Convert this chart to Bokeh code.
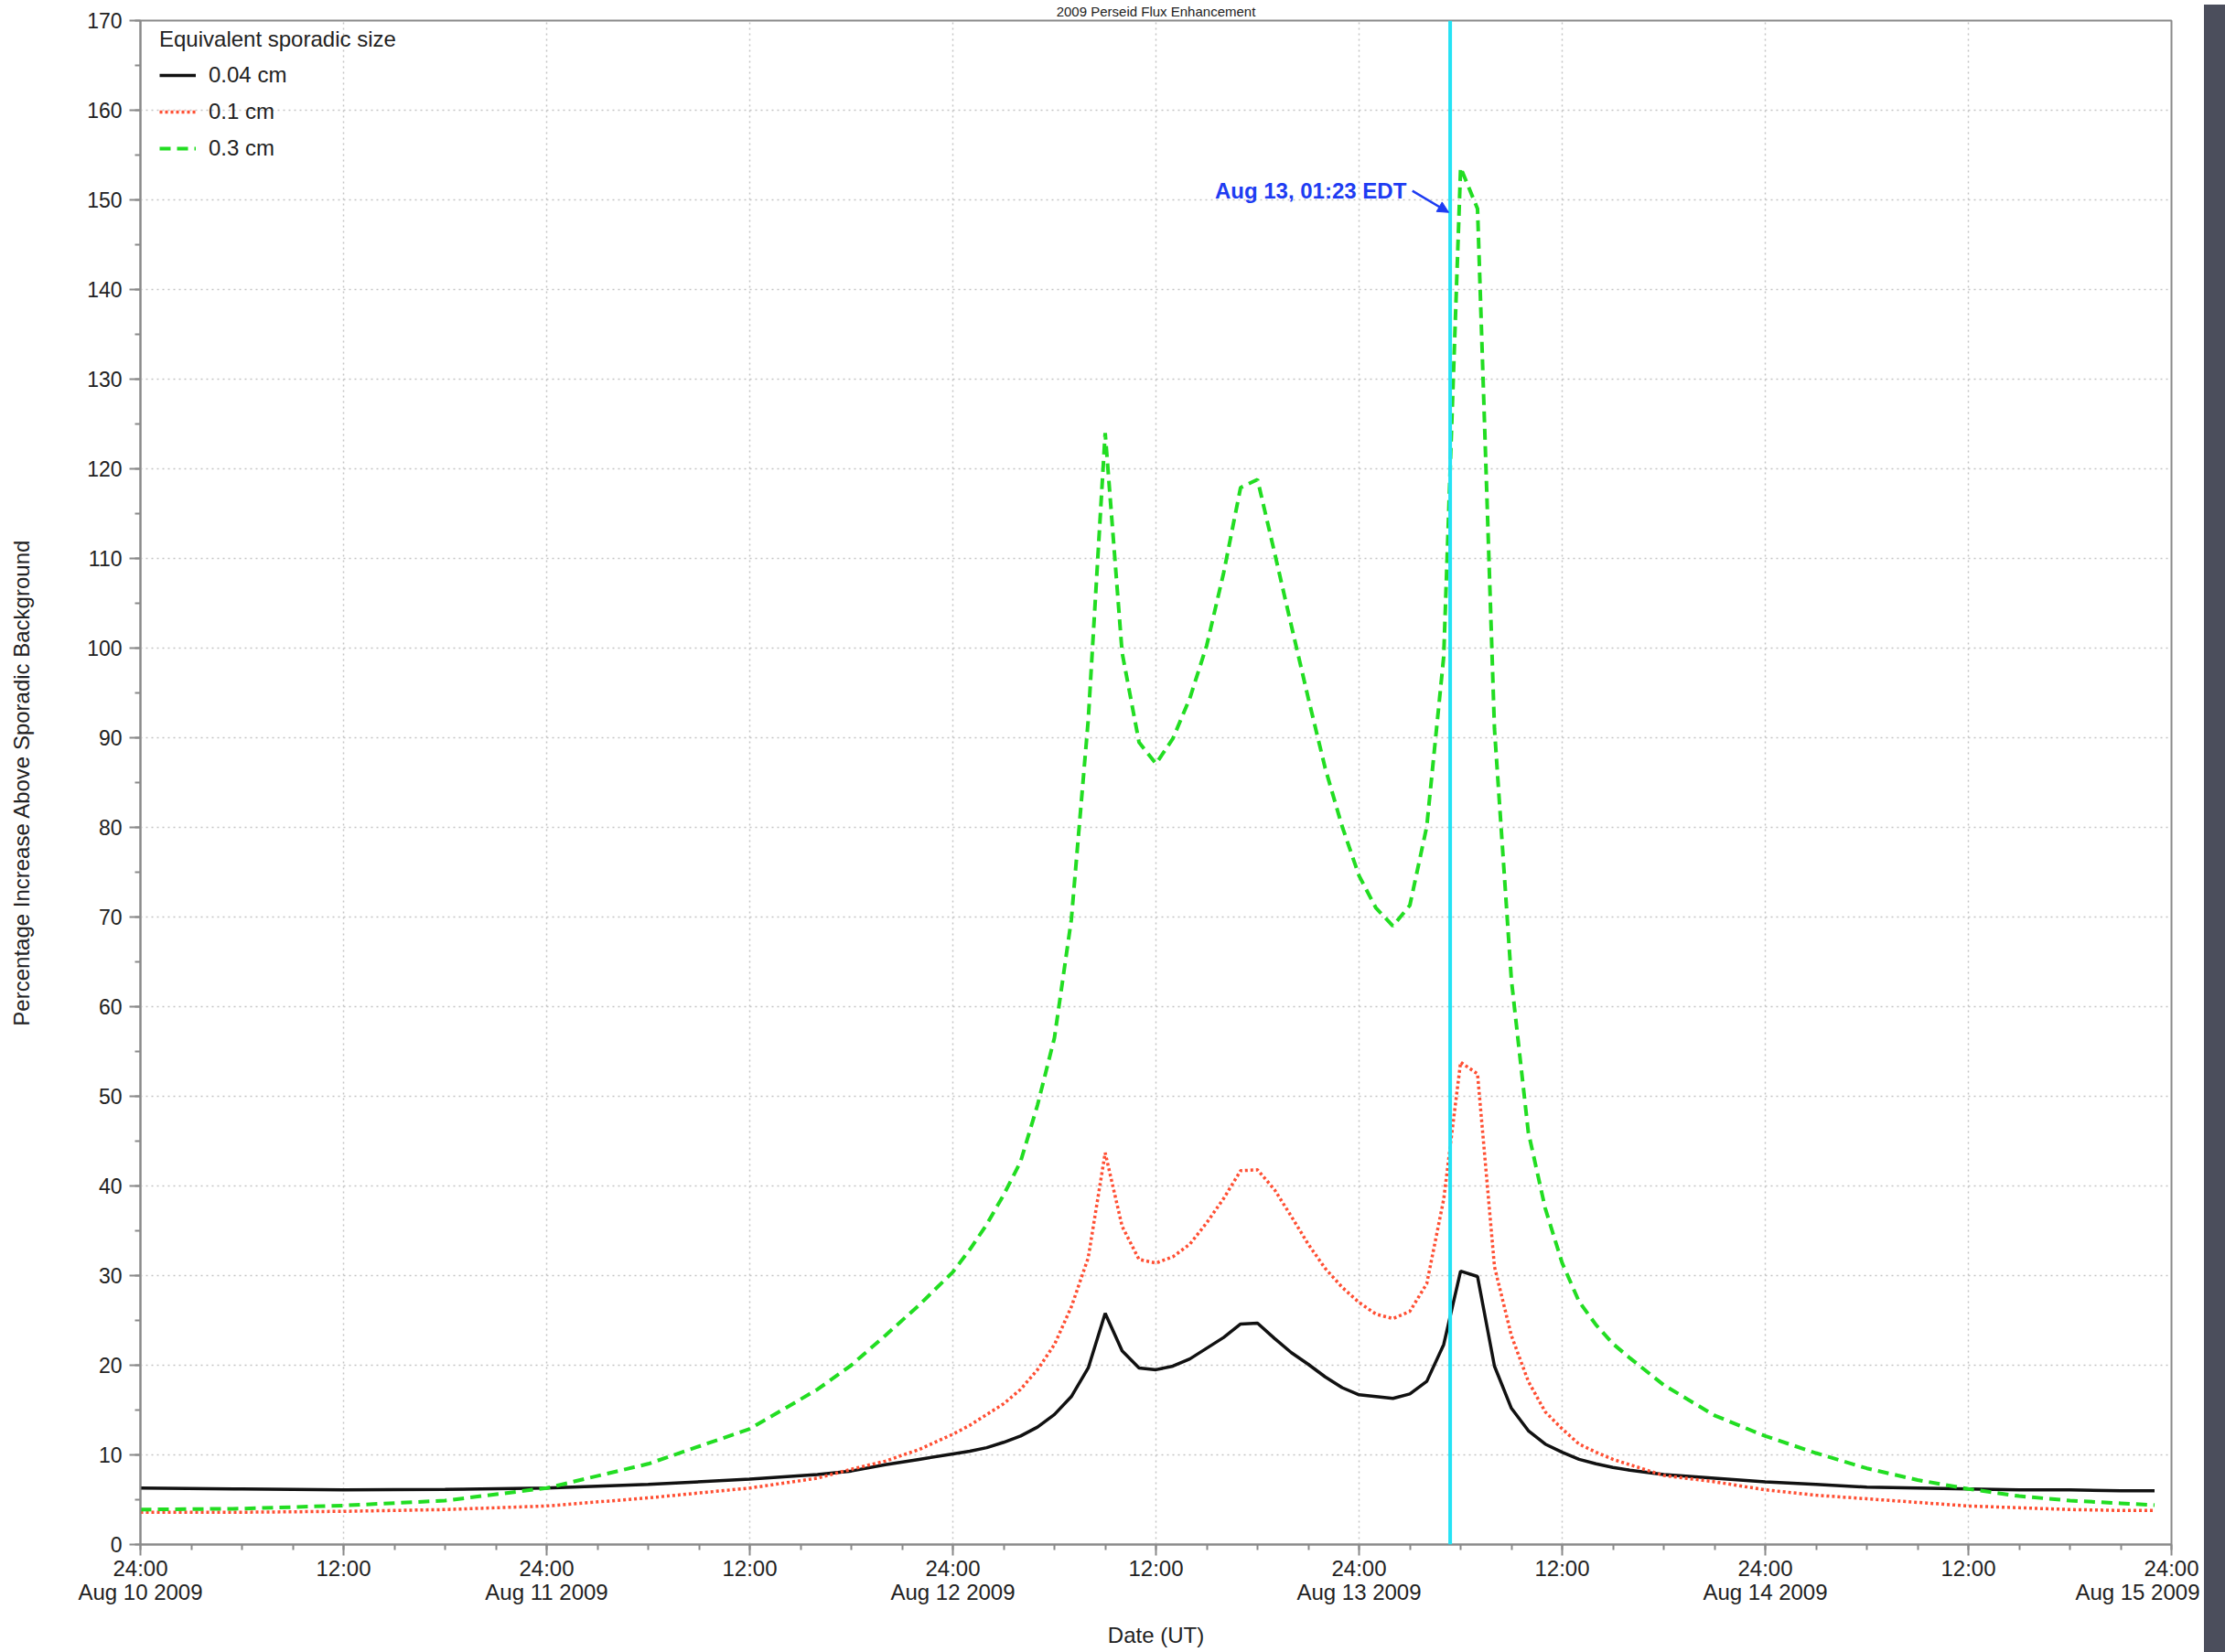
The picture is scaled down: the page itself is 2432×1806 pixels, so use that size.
from bokeh.plotting import figure
from bokeh.models import (FixedTicker, Label, Arrow, NormalHead, Span, Range1d, Div, LinearAxis)
from bokeh.layouts import row
from bokeh.embed import file_html
from bokeh.resources import INLINE

# ---- data (hours after the 24:00 Aug 10 2009 axis origin) ----
hours = [0, 6, 12, 18, 24, 30, 36, 40, 42, 44, 46, 48, 49, 50, 51, 52, 53, 54, 55, 56,
         57, 58, 59, 60, 61, 62, 63, 64, 65, 66, 67, 68, 69, 70, 71, 72, 73, 74, 75, 76,
         77, 78, 79, 80, 81, 82, 83, 84, 85, 86, 87, 88, 90, 93, 96, 99, 102, 105, 108,
         111, 114, 117, 119]

size_004 = [6.3, 6.2, 6.1, 6.15, 6.3, 6.7, 7.3, 7.8, 8.2, 8.9, 9.5, 10.1, 10.4, 10.8, 11.4,
            12.1, 13.1, 14.5, 16.5, 19.7,
            25.8, 21.6, 19.7, 19.5, 19.9, 20.7, 21.9, 23.1, 24.6, 24.7, 23.0, 21.4, 20.1, 18.7,
            17.5, 16.7, 16.5, 16.3, 16.8, 18.2,
            22.3, 30.5, 29.9, 19.9, 15.2, 12.7, 11.2, 10.3, 9.5, 9.0, 8.6, 8.3, 7.8, 7.4, 7.0,
            6.7, 6.4, 6.3, 6.2, 6.1, 6.1, 6.0, 6.0]

size_01 = [3.6, 3.6, 3.7, 3.9, 4.3, 5.2, 6.3, 7.4, 8.4, 9.3, 10.6, 12.3, 13.3, 14.5, 15.7,
           17.3, 19.5, 22.3, 26.5, 32.0,
           43.7, 35.5, 31.8, 31.4, 32.1, 33.5, 35.9, 38.6, 41.7, 41.8, 39.6, 36.6, 33.5, 30.8,
           28.7, 27.0, 25.7, 25.2, 26.0, 29.1,
           38.5, 53.8, 52.5, 31.0, 23.3, 18.2, 14.8, 12.9, 11.2, 10.3, 9.5, 8.9, 7.7, 7.0, 6.1,
           5.5, 5.1, 4.7, 4.3, 4.1, 3.9, 3.8, 3.8]

size_03 = [3.9, 4.0, 4.35, 4.9, 6.3, 9.0, 12.9, 17.3, 20.0, 23.3, 26.7, 30.4, 32.9, 35.7, 39.0,
           42.7, 49.0, 56.5, 69.7, 92.0,
           124.0, 99.5, 89.5, 87.1, 89.9, 94.4, 100.3, 108.4, 117.9, 118.8, 110.7, 102.5, 94.4,
           86.6, 80.1, 74.6, 71.0, 69.0, 71.3, 80.1,
           99.0, 153.6, 149.0, 91.0, 63.0, 46.0, 37.5, 31.4, 27.1, 24.5, 22.4, 20.8, 17.8, 14.4,
           12.1, 10.2, 8.5, 7.2, 6.2, 5.4, 4.9, 4.6, 4.4]

series_labels = ["0.04 cm", "0.1 cm", "0.3 cm"]

tick_hours = [0, 12, 24, 36, 48, 60, 72, 84, 96, 108, 120]
time_text = ["24:00", "12:00", "24:00", "12:00", "24:00", "12:00",
             "24:00", "12:00", "24:00", "12:00", "24:00"]
day_hours = [0, 24, 48, 72, 96, 120]
day_text = ["Aug 10 2009", "Aug 11 2009", "Aug 12 2009", "Aug 13 2009",
            "Aug 14 2009", "Aug 15 2009"]
minor_hours = list(range(0, 121, 3))
y_ticks = list(range(0, 171, 10))
y_minor = list(range(0, 171, 5))

peak_hour = 77.383          # Aug 13 05:23 UT = 01:23 EDT
annot_text = "Aug 13, 01:23 EDT"
title_text = "2009 Perseid Flux Enhancement"

FONT = "Liberation Sans"
AXC = "#8a8a8a"
TXT = "#222222"
FS = "24px"

p = figure(frame_width=2220, frame_height=1666,
           x_range=Range1d(0, 120), y_range=Range1d(0, 170),
           output_backend="svg", toolbar_location=None,
           min_border_left=153, min_border_right=31, min_border_top=22,
           min_border_bottom=100,
           background_fill_color="white", border_fill_color="white")

# title, squeezed into the strip above the frame
p.title.text = title_text
p.title.align = "center"
p.title.text_font = FONT
p.title.text_font_size = "15px"
p.title.text_font_style = "normal"
p.title.text_color = TXT
p.title.standoff = 3
p.title.offset = 0

p.outline_line_color = AXC
p.outline_line_width = 2

xa = p.xaxis[0]
ya = p.yaxis[0]
xa.ticker = FixedTicker(ticks=tick_hours, minor_ticks=minor_hours)
xa.major_label_overrides = {h: t for h, t in zip(tick_hours, time_text)}
ya.ticker = FixedTicker(ticks=y_ticks, minor_ticks=y_minor)
ya.axis_label = "Percentage Increase Above Sporadic Background"

for ax in (xa, ya):
    ax.axis_line_color = AXC
    ax.axis_line_width = 2
    ax.major_tick_line_color = AXC
    ax.major_tick_line_width = 2
    ax.minor_tick_line_color = AXC
    ax.minor_tick_line_width = 2
    ax.major_tick_out = 12
    ax.major_tick_in = 0
    ax.minor_tick_out = 6
    ax.minor_tick_in = 0
    ax.major_label_text_font = FONT
    ax.major_label_text_font_size = FS
    ax.major_label_text_color = TXT
    ax.axis_label_text_font = FONT
    ax.axis_label_text_font_size = FS
    ax.axis_label_text_font_style = "normal"
    ax.axis_label_text_color = TXT

ya.major_label_text_font_size = "23px"
xa.major_label_standoff = 0
ya.major_label_standoff = 8
ya.axis_label_standoff = 55

# second row of x labels: the dates, plus the axis title
date_axis = LinearAxis(ticker=FixedTicker(ticks=day_hours),
                       major_label_overrides={h: t for h, t in zip(day_hours, day_text)},
                       axis_label="Date (UT)")
date_axis.axis_line_color = None
date_axis.major_tick_line_color = None
date_axis.minor_tick_line_color = None
date_axis.major_tick_out = 0
date_axis.major_tick_in = 0
date_axis.minor_tick_out = 0
date_axis.minor_tick_in = 0
date_axis.major_label_standoff = -4
date_axis.major_label_text_font = FONT
date_axis.major_label_text_font_size = FS
date_axis.major_label_text_color = TXT
date_axis.axis_label_text_font = FONT
date_axis.axis_label_text_font_size = FS
date_axis.axis_label_text_font_style = "normal"
date_axis.axis_label_text_color = TXT
date_axis.axis_label_standoff = 17
p.add_layout(date_axis, "below")

for g in (p.xgrid[0], p.ygrid[0]):
    g.grid_line_color = "#c4c4c4"
    g.grid_line_dash = "2 4"
    g.grid_line_width = 1.5

# series
p.line(hours, size_004, line_color="#111111", line_width=3.5, legend_label=series_labels[0])
p.line(hours, size_01, line_color="#ff4f33", line_width=3.5, line_dash="3 3",
       legend_label=series_labels[1])
p.line(hours, size_03, line_color="#22dd22", line_width=4, line_dash="12 7",
       legend_label=series_labels[2])

# cyan marker line
p.add_layout(Span(location=peak_hour, dimension="height", line_color="#25e3f5", line_width=4))

# annotation
p.add_layout(Label(x=74.8, y=151.0, text=annot_text, text_align="right",
                   text_baseline="middle", text_font=FONT, text_font_size=FS,
                   text_font_style="bold", text_color="#1e3cf2"))
p.add_layout(Arrow(x_start=75.15, y_start=151.0, x_end=77.3, y_end=148.6,
                   line_color="#1e3cf2", line_width=2.5,
                   end=NormalHead(size=12, fill_color="#1e3cf2", line_color="#1e3cf2")))

# legend
lg = p.legend[0]
lg.title = "Equivalent sporadic size"
lg.title_text_font = FONT
lg.title_text_font_size = FS
lg.title_text_font_style = "normal"
lg.title_text_color = TXT
lg.title_standoff = 10
lg.location = (15, 1505)
lg.margin = 0
lg.padding = 6
lg.label_text_font = FONT
lg.label_text_font_size = FS
lg.label_text_color = TXT
lg.glyph_width = 40
lg.glyph_height = 30
lg.label_height = 30
lg.label_standoff = 14
lg.spacing = 10
lg.background_fill_alpha = 0
lg.border_line_alpha = 0

strip = Div(width=28, height=1806, styles={"background-color": "#4b4e5c"})

layout = row(p, strip)
open("out.html", "w").write(file_html(layout, INLINE))
